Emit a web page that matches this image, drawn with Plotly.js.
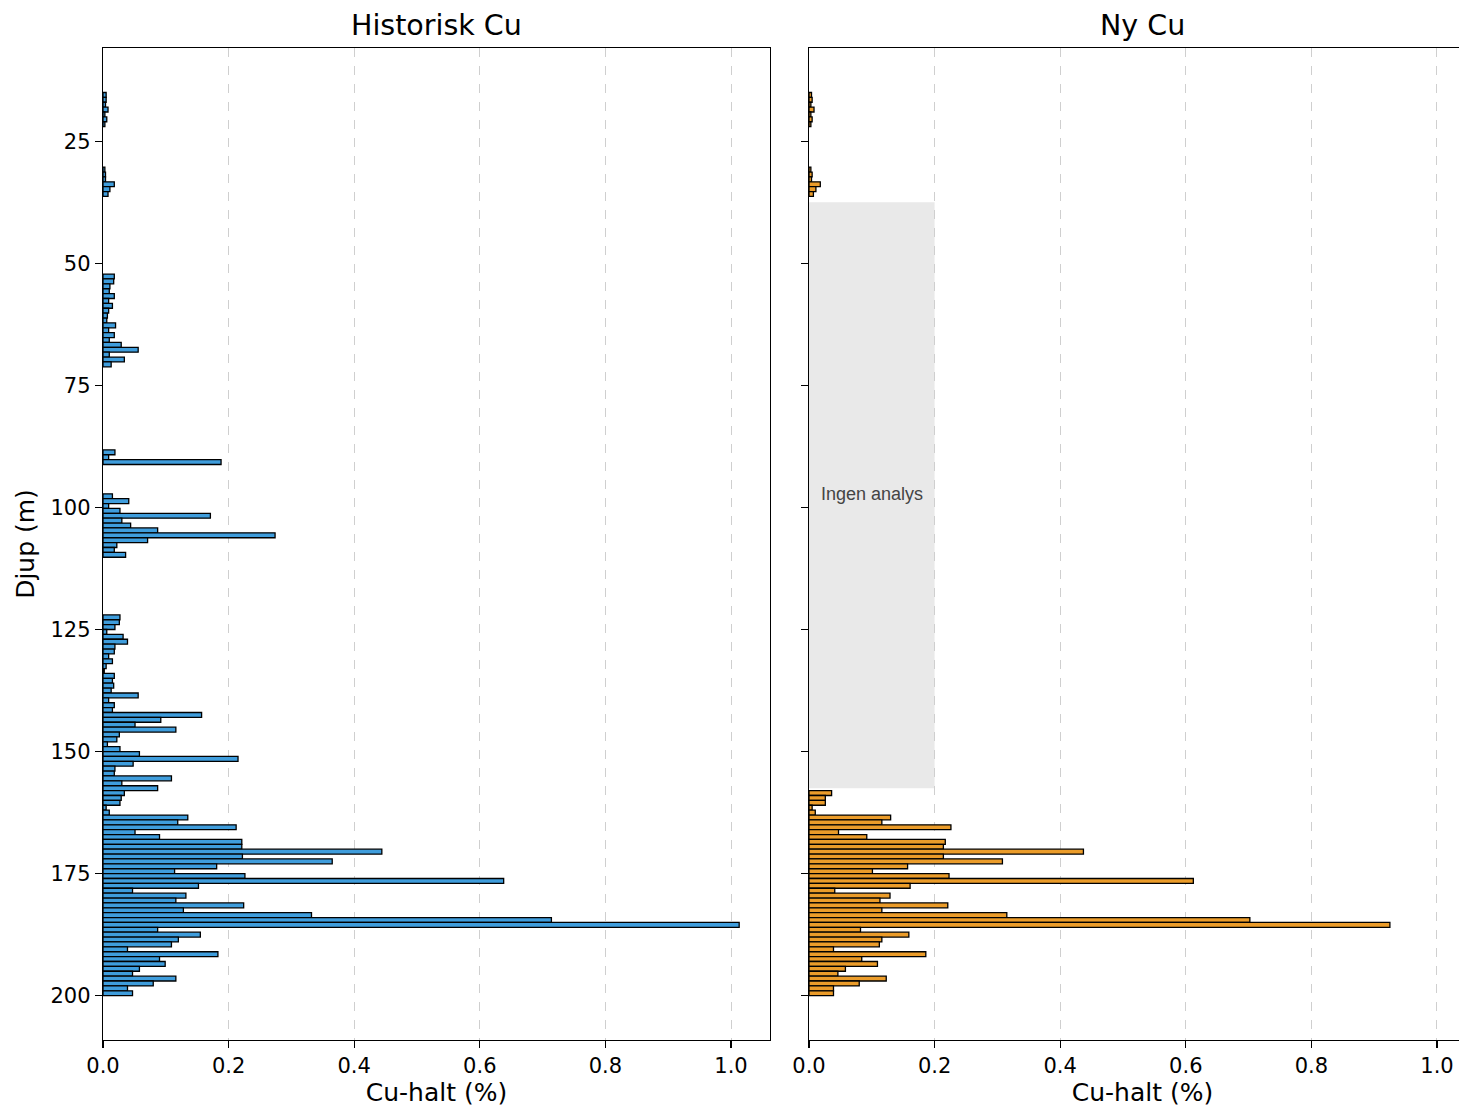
<!DOCTYPE html>
<html>
<head>
<meta charset="utf-8">
<script src="https://cdn.plot.ly/plotly-3.0.1.min.js"></script>
<style>
html, body { margin: 0; padding: 0; overflow: hidden; background: #fff; }
#chart { width: 1480px; height: 1111px; }
</style>
</head>
<body>
<div id="chart"></div>
<script>
// Historisk Cu: depth (m) and Cu-halt (%)
const histDepth = [
  15.5, 16.5, 17.5, 18.5, 19.5, 20.5, 21.5,
  30.8, 31.8, 32.8, 33.8, 34.8, 35.8,
  52.7, 53.7, 54.7, 55.7, 56.7, 57.7, 58.7, 59.7, 60.7, 61.7, 62.7, 63.7, 64.7, 65.7, 66.7, 67.7, 68.7, 69.7, 70.7,
  88.7, 89.7, 90.7,
  97.7, 98.7, 99.7, 100.7, 101.7, 102.7, 103.7, 104.7, 105.7, 106.7, 107.7, 108.7, 109.7,
  122.5, 123.5, 124.5, 125.5, 126.5, 127.5, 128.5, 129.5, 130.5, 131.5, 132.5, 133.5, 134.5, 135.5, 136.5, 137.5,
  138.5, 139.5, 140.5, 141.5, 142.5, 143.5, 144.5, 145.5, 146.5, 147.5, 148.5, 149.5, 150.5, 151.5, 152.5, 153.5,
  154.5, 155.5, 156.5, 157.5, 158.5, 159.5, 160.5, 161.5, 162.5, 163.5, 164.5, 165.5, 166.5, 167.5, 168.5, 169.5,
  170.5, 171.5, 172.5, 173.5, 174.5, 175.5, 176.5, 177.5, 178.5, 179.5, 180.5, 181.5, 182.5, 183.5, 184.5, 185.5,
  186.5, 187.5, 188.5, 189.5, 190.5, 191.5, 192.5, 193.5, 194.5, 195.5, 196.5, 197.5, 198.5, 199.5
];
const histCu = [
  0.005, 0.005, 0.004, 0.008, 0.003, 0.006, 0.003,
  0.003, 0.004, 0.004, 0.018, 0.011, 0.008,
  0.018, 0.017, 0.011, 0.010, 0.018, 0.009, 0.015, 0.009, 0.007, 0.006, 0.020, 0.009, 0.018, 0.010, 0.029, 0.056, 0.010, 0.034, 0.013,
  0.019, 0.009, 0.188,
  0.015, 0.041, 0.009, 0.027, 0.171, 0.030, 0.044, 0.087, 0.274, 0.071, 0.022, 0.018, 0.036,
  0.027, 0.026, 0.019, 0.006, 0.032, 0.039, 0.019, 0.018, 0.009, 0.015, 0.005, 0.002, 0.018, 0.015, 0.017, 0.013,
  0.056, 0.009, 0.018, 0.015, 0.157, 0.092, 0.051, 0.116, 0.026, 0.022, 0.007, 0.027, 0.058, 0.215, 0.048, 0.019,
  0.018, 0.109, 0.030, 0.087, 0.034, 0.029, 0.027, 0.005, 0.010, 0.135, 0.119, 0.212, 0.051, 0.090, 0.221, 0.221,
  0.444, 0.222, 0.365, 0.181, 0.114, 0.226, 0.638, 0.152, 0.047, 0.132, 0.116, 0.224, 0.128, 0.332, 0.714, 1.013,
  0.087, 0.155, 0.120, 0.109, 0.039, 0.183, 0.090, 0.099, 0.058, 0.047, 0.116, 0.080, 0.039, 0.047
];

// Ny Cu: depth (m) and Cu-halt (%)
const newDepth = [
  15.5, 16.5, 17.5, 18.5, 19.5, 20.5, 21.5,
  30.8, 31.8, 32.8, 33.8, 34.8, 35.8,
  158.5, 159.5, 160.5, 161.5, 162.5, 163.5, 164.5, 165.5, 166.5, 167.5, 168.5, 169.5,
  170.5, 171.5, 172.5, 173.5, 174.5, 175.5, 176.5, 177.5, 178.5, 179.5, 180.5, 181.5, 182.5, 183.5, 184.5, 185.5,
  186.5, 187.5, 188.5, 189.5, 190.5, 191.5, 192.5, 193.5, 194.5, 195.5, 196.5, 197.5, 198.5, 199.5
];
const newCu = [
  0.004, 0.005, 0.003, 0.008, 0.003, 0.005, 0.003,
  0.003, 0.005, 0.004, 0.018, 0.011, 0.007,
  0.036, 0.026, 0.026, 0.005, 0.010, 0.130, 0.116, 0.226, 0.047, 0.092, 0.217, 0.214,
  0.437, 0.214, 0.308, 0.157, 0.101, 0.223, 0.612, 0.161, 0.041, 0.129, 0.113, 0.221, 0.116, 0.315, 0.702, 0.925,
  0.082, 0.159, 0.116, 0.112, 0.039, 0.186, 0.084, 0.109, 0.058, 0.046, 0.123, 0.080, 0.039, 0.039
];

const xTickVals = [0, 0.2, 0.4, 0.6, 0.8, 1.0];
const xTickText = ['0.0', '0.2', '0.4', '0.6', '0.8', '1.0'];
const yTickVals = [25, 50, 75, 100, 125, 150, 175, 200];
const panelTitles = ['Historisk Cu', 'Ny Cu'];
const xTitle = 'Cu-halt (%)';
const yTitle = 'Djup (m)';
const noDataLabel = 'Ingen analys';
const noDataFrom = 37.5, noDataTo = 157.5, noDataWidth = 0.2;

const FONT = 'DejaVu Sans, sans-serif';
const xRange = [0, 1.0621];
const yRange = [209.08, 5.89];

const traces = [
  {
    type: 'bar', orientation: 'h', y: histDepth, x: histCu, width: 1,
    xaxis: 'x', yaxis: 'y',
    marker: { color: '#3f9ddc', line: { color: '#000000', width: 1.3 } },
    hoverinfo: 'x+y', showlegend: false
  },
  {
    type: 'bar', orientation: 'h', y: newDepth, x: newCu, width: 1,
    xaxis: 'x2', yaxis: 'y2',
    marker: { color: '#eb9c2a', line: { color: '#000000', width: 1.3 } },
    hoverinfo: 'x+y', showlegend: false
  }
];

function xAxis(domain, anchor) {
  return {
    domain: domain, anchor: anchor, range: xRange,
    tickmode: 'array', tickvals: xTickVals, ticktext: xTickText,
    ticks: 'outside', ticklen: 7, tickwidth: 1.2, tickcolor: '#000',
    showline: true, linecolor: '#000', linewidth: 1.2, mirror: true,
    showgrid: true, gridcolor: '#cfcfcf', gridwidth: 1, griddash: 'dash',
    zeroline: false,
    tickfont: { family: FONT, size: 21, color: '#000' },
    title: { text: xTitle, font: { family: FONT, size: 25, color: '#000' }, standoff: 6 }
  };
}
function yAxis(anchor, labels) {
  const a = {
    anchor: anchor, range: yRange, autorange: false,
    tickmode: 'array', tickvals: yTickVals,
    ticks: 'outside', ticklen: 7, tickwidth: 1.2, tickcolor: '#000',
    showline: true, linecolor: '#000', linewidth: 1.2, mirror: true,
    showgrid: false, zeroline: false, showticklabels: labels,
    tickfont: { family: FONT, size: 21, color: '#000' }
  };
  if (labels) a.title = { text: yTitle, font: { family: FONT, size: 25, color: '#000' }, standoff: 8 };
  return a;
}

const layout = {
  width: 1480, height: 1111,
  margin: { l: 103, r: 4, t: 48, b: 71 },
  paper_bgcolor: '#ffffff', plot_bgcolor: '#ffffff',
  font: { family: FONT, color: '#000' },
  bargap: 0,
  xaxis: xAxis([0, 0.48580], 'y'),
  xaxis2: xAxis([0.51420, 1], 'y2'),
  yaxis: yAxis('x', true),
  yaxis2: Object.assign(yAxis('x2', false), { matches: 'y' }),
  shapes: [
    {
      type: 'rect', xref: 'x2', yref: 'y2',
      x0: 0, x1: noDataWidth, y0: noDataFrom, y1: noDataTo,
      fillcolor: '#e9e9e9', line: { width: 0 }, layer: 'below'
    }
  ],
  annotations: [
    {
      xref: 'x', yref: 'paper', x: xRange[1] / 2, y: 1.0222, yanchor: 'middle', xanchor: 'center',
      text: panelTitles[0], showarrow: false, font: { family: FONT, size: 28.5, color: '#000' }
    },
    {
      xref: 'x2', yref: 'paper', x: xRange[1] / 2, y: 1.0222, yanchor: 'middle', xanchor: 'center',
      text: panelTitles[1], showarrow: false, font: { family: FONT, size: 28.5, color: '#000' }
    },
    {
      xref: 'x2', yref: 'y2', x: noDataWidth / 2, y: (noDataFrom + noDataTo) / 2 - 0.2,
      text: noDataLabel, showarrow: false, font: { family: 'Liberation Sans, Arial, sans-serif', size: 18, color: '#444' }
    }
  ]
};

Plotly.newPlot('chart', traces, layout, { displayModeBar: false, staticPlot: true });
</script>
</body>
</html>
